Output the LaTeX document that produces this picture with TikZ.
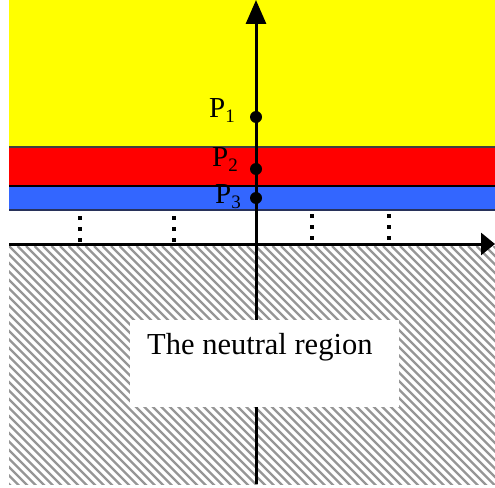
\documentclass[tikz,border=0pt]{standalone}
\usepackage{fontspec}
\setmainfont{Liberation Serif}
\usetikzlibrary{arrows.meta}
\definecolor{bandyellow}{RGB}{255,255,0}
\definecolor{bandred}{RGB}{255,0,0}
\definecolor{bandblue}{RGB}{51,102,255}
\definecolor{hatchgray}{RGB}{150,150,150}
\definecolor{navyline}{RGB}{40,50,90}
\tikzset{
  axisline/.style={line width=3pt, black},
  dotcol/.style={line width=3.4pt, black, dash pattern=on 3.4pt off 7.6pt},
  pdot/.style={circle, fill=black, inner sep=0pt, minimum size=12pt},
  plabel/.style={inner sep=0pt, anchor=base west, font=\fontsize{29}{32}\selectfont},
}
\newcommand{\psub}[1]{P\raisebox{-0.2em}{\fontsize{19}{19}\selectfont #1}}
\begin{document}
\begin{tikzpicture}[x={(1pt,0)}, y={(0,-1pt)}]
\useasboundingbox (0,0) rectangle (495,487);
% bands
\fill[bandyellow] (9,0) rectangle (495,147);
\fill[bandred] (9,147) rectangle (495,186);
\fill[bandblue] (9,186) rectangle (495,210);
\draw[line width=1.2pt, black!75] (9,147) -- (495,147);
\draw[line width=2.2pt, black] (9,186) -- (495,186);
\draw[line width=1.8pt, navyline] (9,210) -- (495,210);
% hatched region
\begin{scope}
\clip (9,246) rectangle (495,484);
\foreach \x in {-246,-237.5,...,500} {
  \draw[hatchgray, line width=2.2pt] (\x,246) -- ++(240,240);
}
\end{scope}
% dotted columns
\draw[dotcol] (80,216.3) -- (80,242);
\draw[dotcol] (174,216.3) -- (174,242);
\draw[dotcol] (312,214.3) -- (312,240);
\draw[dotcol] (389,214.3) -- (389,240);
% axes
\coordinate (ybot) at (256,484);
\coordinate (ytop) at (256,0);
\coordinate (xl) at (9,244);
\coordinate (xr) at (495,244);
\draw[axisline, -{Triangle[length=24pt,width=20pt]}] (ybot) -- (ytop);
\draw[axisline, -{Triangle[length=14pt,width=22pt]}] (xl) -- (xr);
% neutral region box
\fill[white] (130,320) rectangle (399,407);
\node[inner sep=0pt, anchor=base west, font=\fontsize{30.5}{36}\selectfont] (neutral) at (147,354) {The neutral region};
% points
\node[pdot] (p1) at (256,117) {};
\node[pdot] (p2) at (256,169) {};
\node[pdot] (p3) at (256,198) {};
\node[plabel] (l1) at (209,117) {\psub{1}};
\node[plabel] (l2) at (212,166) {\psub{2}};
\node[plabel] (l3) at (215,203) {\psub{3}};
\end{tikzpicture}
\end{document}
